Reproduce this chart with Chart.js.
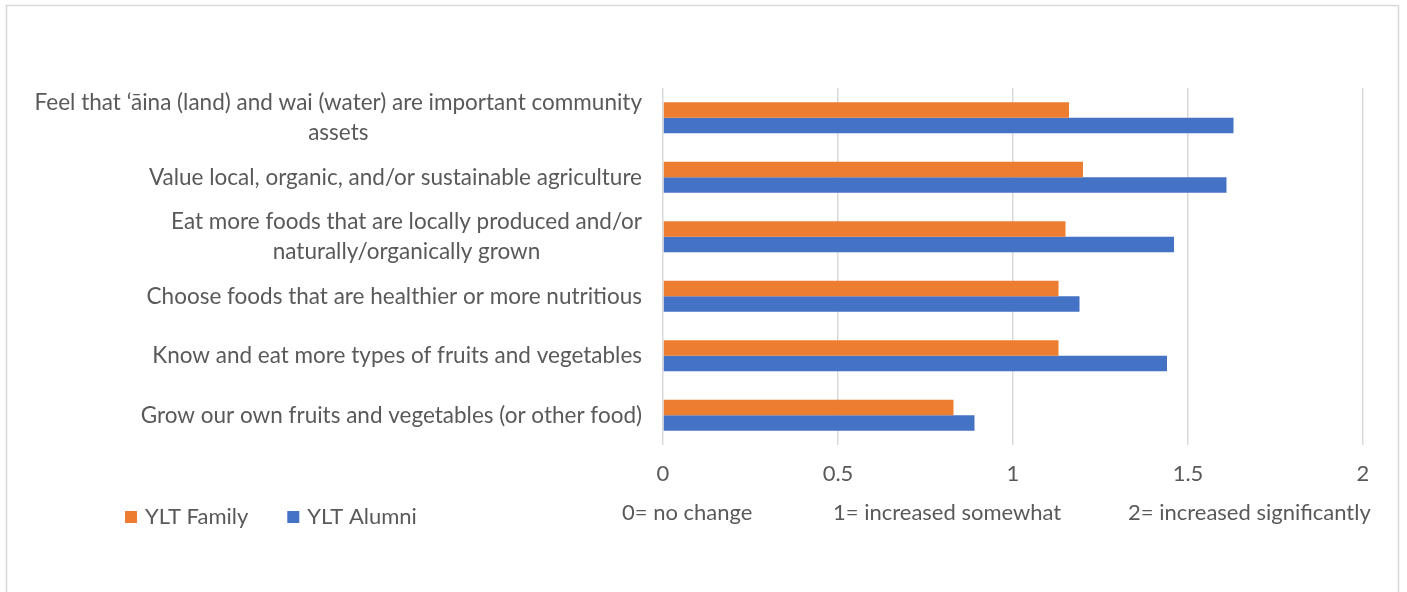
<!DOCTYPE html>
<html>
<head>
<meta charset="utf-8">
<script src="https://cdn.jsdelivr.net/npm/chart.js@4/dist/chart.umd.min.js"></script>
<style>
  html, body { margin: 0; padding: 0; background: #fff; }
  #wrap { width: 1407px; height: 592px; }
</style>
</head>
<body>
<div id="wrap"><canvas id="myChart" width="1407" height="592"></canvas></div>
<script>
// categories, top to bottom (split where the label wraps)
const categories = [
    ['Feel that \u2018\u0101ina (land) and wai (water) are important community', 'assets'],
    ['Value local, organic, and/or sustainable agriculture'],
    ['Eat more foods that are locally produced and/or', 'naturally/organically grown'],
    ['Choose foods that are healthier or more nutritious'],
    ['Know and eat more types of fruits and vegetables'],
    ['Grow our own fruits and vegetables (or other food)']
];
const familyValues = [1.16, 1.20, 1.15, 1.13, 1.13, 0.83];
const alumniValues = [1.63, 1.61, 1.46, 1.19, 1.44, 0.89];
const xTicks = [0, 0.5, 1, 1.5, 2];
const scaleNotes = ['0= no change', '1= increased somewhat', '2= increased significantly'];

const FONT = 'Lato';
const TEXT = '#595959';

// frame around the whole chart
const framePlugin = {
    id: 'frame',
    beforeDraw(chart) {
        const ctx = chart.ctx;
        ctx.save();
        ctx.strokeStyle = '#D9D9D9';
        ctx.lineWidth = 1.5;
        ctx.strokeRect(6.5, 5.5, 1392, 700);
        ctx.restore();
    }
};

// category labels: block right-aligned to the axis, lines centred in the block
const catLabels = {
    id: 'catLabels',
    afterDraw(chart) {
        const ctx = chart.ctx;
        const y = chart.scales.y;
        const right = chart.chartArea.left - 21;
        ctx.save();
        ctx.font = '22.5px ' + FONT;
        ctx.fillStyle = TEXT;
        ctx.textAlign = 'center';
        ctx.textBaseline = 'middle';
        categories.forEach((lines, i) => {
            const cy = y.getPixelForValue(i);
            const w = Math.max(...lines.map(t => ctx.measureText(t).width));
            const cx = right - w / 2;
            lines.forEach((t, k) => {
                ctx.fillText(t, cx, cy + (k - (lines.length - 1) / 2) * 30);
            });
        });

        // scale meaning under the x axis
        ctx.font = '22px ' + FONT;
        ctx.textAlign = 'left';
        const starts = [622, 833, 1128];
        scaleNotes.forEach((t, k) => ctx.fillText(t, starts[k], 513));

        // legend, bottom left
        let x = 125;
        chart.data.datasets.forEach(ds => {
            ctx.fillStyle = ds.backgroundColor;
            ctx.fillRect(x, 511, 12, 12);
            ctx.fillStyle = TEXT;
            ctx.fillText(ds.label, x + 20, 517);
            x += 20 + ctx.measureText(ds.label).width + 39;
        });
        ctx.restore();
    }
};

const data = {
    labels: categories.map(c => c.join(' ')),
    datasets: [
        {
            label: 'YLT Family',
            data: familyValues,
            backgroundColor: '#ED7D31',
            borderWidth: 0
        },
        {
            label: 'YLT Alumni',
            data: alumniValues,
            backgroundColor: '#4472C4',
            borderWidth: 0
        }
    ]
};

const config = {
    type: 'bar',
    data: data,
    options: {
        indexAxis: 'y',
        responsive: false,
        animation: false,
        datasets: {
            bar: { barPercentage: 1, categoryPercentage: 0.52 }
        },
        layout: {
            padding: { left: 86, right: 44, top: 88, bottom: 97 }
        },
        plugins: {
            tooltip: { enabled: false },
            legend: { display: false }
        },
        scales: {
            x: {
                min: 0,
                max: 2,
                afterBuildTicks(scale) {
                    scale.ticks = xTicks.map(v => ({ value: v }));
                },
                afterFit(scale) {
                    scale.height = 50;
                },
                ticks: {
                    padding: 16,
                    color: TEXT,
                    font: { family: FONT, size: 22 },
                    callback: v => String(v)
                },
                grid: { color: '#D9D9D9', lineWidth: 1.5, drawTicks: false },
                border: { display: false }
            },
            y: {
                afterFit(scale) {
                    scale.width = 663 - 86;
                },
                ticks: { display: false },
                grid: { display: false },
                border: { display: false }
            }
        }
    },
    plugins: [framePlugin, catLabels]
};

var myChart = new Chart(document.getElementById('myChart'), config);
</script>
</body>
</html>
